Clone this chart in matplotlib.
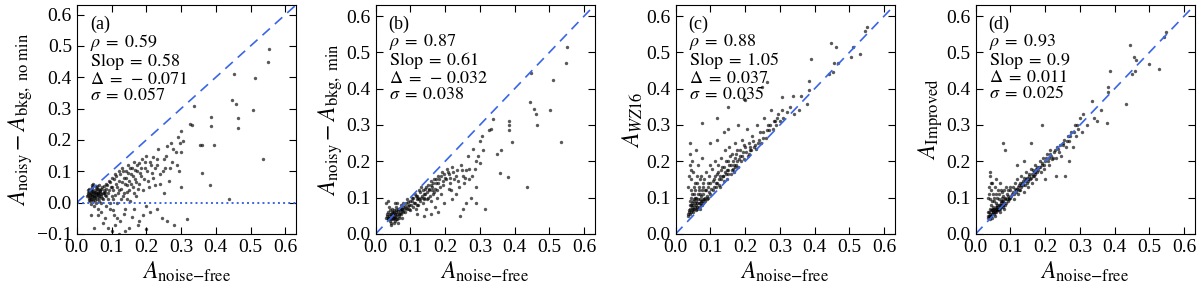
import numpy as np
import matplotlib.pyplot as plt

plt.rcParams['font.family'] = ['Liberation Serif', 'DejaVu Serif']
plt.rcParams['mathtext.fontset'] = 'stix'

# (noise-free amplitude, estimated amplitude) pairs
pts_a = [
    (0.030, 0.020), (0.032, 0.030), (0.035, 0.015), (0.036, 0.035), (0.038, 0.025), (0.040, 0.010),
    (0.040, 0.040), (0.042, 0.030), (0.044, 0.020), (0.045, 0.045), (0.046, 0.005), (0.048, 0.035),
    (0.050, 0.025), (0.050, 0.015), (0.052, 0.040), (0.054, 0.030), (0.055, 0.020), (0.056, 0.050),
    (0.058, 0.010), (0.060, 0.035), (0.060, 0.025), (0.062, 0.045), (0.064, 0.015), (0.066, 0.030),
    (0.068, 0.040), (0.070, 0.020), (0.072, 0.050), (0.074, 0.030), (0.076, 0.010), (0.078, 0.040),
    (0.080, 0.025), (0.035, 0.045), (0.045, 0.055), (0.055, 0.000), (0.065, 0.055), (0.040, -0.005),
    (0.050, -0.010), (0.070, 0.000), (0.085, 0.045), (0.090, 0.030),
    (0.033, 0.025), (0.037, 0.018), (0.041, 0.028), (0.043, 0.038), (0.047, 0.022), (0.049, 0.030),
    (0.051, 0.035), (0.053, 0.018), (0.057, 0.028), (0.059, 0.042), (0.061, 0.030), (0.063, 0.022),
    (0.067, 0.036), (0.069, 0.026), (0.071, 0.044), (0.073, 0.016), (0.077, 0.032), (0.079, 0.052),
    (0.082, 0.035), (0.084, 0.020), (0.087, 0.055), (0.045, 0.012), (0.052, 0.008), (0.058, 0.052),
    (0.064, 0.005), (0.043, 0.050), (0.039, 0.005), (0.034, 0.008), (0.031, 0.040), (0.047, 0.060),
    (0.085, 0.060), (0.090, 0.010), (0.092, 0.070), (0.095, -0.020), (0.098, 0.050), (0.100, 0.080),
    (0.100, 0.020), (0.105, 0.040), (0.108, -0.040), (0.110, 0.090), (0.112, 0.060), (0.115, 0.000),
    (0.118, 0.030), (0.120, 0.100), (0.122, 0.070), (0.125, -0.060), (0.128, 0.045), (0.130, 0.110),
    (0.132, 0.020), (0.135, 0.080), (0.138, 0.060), (0.140, -0.020), (0.142, 0.100), (0.145, 0.035),
    (0.148, 0.120), (0.150, 0.070), (0.152, 0.005), (0.155, 0.090), (0.158, -0.045), (0.160, 0.110),
    (0.162, 0.050), (0.165, 0.130), (0.168, 0.075), (0.170, 0.020), (0.172, 0.100), (0.175, -0.070),
    (0.178, 0.060), (0.180, 0.125), (0.185, 0.085), (0.188, 0.140), (0.190, 0.040), (0.195, 0.110),
    (0.198, -0.010), (0.200, 0.150), (0.205, 0.070), (0.210, 0.130), (0.212, -0.030), (0.215, 0.095),
    (0.220, 0.145), (0.225, 0.055), (0.230, 0.120), (0.235, 0.170), (0.240, 0.090), (0.245, -0.050),
    (0.250, 0.140), (0.255, 0.110), (0.260, 0.180), (0.265, 0.070), (0.270, 0.190), (0.275, 0.130),
    (0.280, -0.070), (0.285, 0.160), (0.290, 0.210), (0.295, 0.100), (0.300, 0.230), (0.300, 0.160),
    (0.305, 0.195), (0.070, -0.030), (0.080, -0.050), (0.060, -0.020), (0.100, -0.090), (0.090, -0.080),
    (0.050, -0.080), (0.040, -0.040), (0.120, -0.100), (0.150, -0.080), (0.200, -0.085), (0.180, -0.060),
    (0.230, -0.020), (0.260, -0.060), (0.300, 0.050), (0.250, 0.030),
    (0.092, 0.040), (0.096, 0.065), (0.102, 0.050), (0.104, 0.010), (0.107, 0.075), (0.111, 0.025),
    (0.114, 0.085), (0.117, 0.050), (0.121, 0.040), (0.124, 0.090), (0.127, 0.010), (0.131, 0.065),
    (0.134, 0.100), (0.137, 0.030), (0.141, 0.080), (0.144, 0.055), (0.147, 0.095), (0.151, 0.040),
    (0.154, 0.110), (0.157, 0.060), (0.161, 0.085), (0.164, 0.030), (0.167, 0.105), (0.171, 0.065),
    (0.174, 0.120), (0.177, 0.045), (0.182, 0.095), (0.186, 0.110), (0.192, 0.075), (0.197, 0.130),
    (0.203, 0.100), (0.208, 0.050), (0.214, 0.120), (0.218, 0.080), (0.224, 0.110), (0.232, 0.140),
    (0.238, 0.060), (0.248, 0.100), (0.258, 0.150), (0.268, 0.110), (0.278, 0.170), (0.288, 0.120),
    (0.298, 0.190), (0.085, -0.010), (0.095, 0.000), (0.105, -0.025), (0.115, -0.050), (0.135, -0.035),
    (0.145, 0.010), (0.165, -0.020), (0.190, -0.040), (0.060, -0.040), (0.075, -0.065), (0.110, -0.070),
    (0.140, -0.090),
    (0.318, -0.051), (0.325, 0.250), (0.332, 0.248), (0.338, 0.307), (0.355, 0.183), (0.361, 0.184),
    (0.361, 0.093), (0.382, 0.057), (0.386, 0.274), (0.386, 0.244), (0.394, 0.185), (0.438, 0.013),
    (0.447, 0.328), (0.451, 0.410), (0.458, 0.316), (0.464, 0.269), (0.465, 0.239), (0.507, 0.295),
    (0.513, 0.396), (0.535, 0.140), (0.551, 0.448), (0.554, 0.489),
]

pts_b = [
    (0.030, 0.045), (0.032, 0.055), (0.035, 0.040), (0.036, 0.060), (0.038, 0.050), (0.040, 0.035),
    (0.040, 0.065), (0.042, 0.045), (0.044, 0.055), (0.045, 0.030), (0.046, 0.070), (0.048, 0.050),
    (0.050, 0.040), (0.050, 0.060), (0.052, 0.045), (0.054, 0.065), (0.055, 0.035), (0.056, 0.055),
    (0.058, 0.075), (0.060, 0.050), (0.060, 0.060), (0.062, 0.040), (0.064, 0.070), (0.066, 0.055),
    (0.068, 0.045), (0.070, 0.065), (0.072, 0.080), (0.074, 0.055), (0.076, 0.070), (0.078, 0.060),
    (0.080, 0.075), (0.030, 0.085), (0.035, 0.090), (0.045, 0.025), (0.055, 0.085), (0.065, 0.030),
    (0.085, 0.060), (0.088, 0.085), (0.090, 0.070), (0.095, 0.080),
    (0.033, 0.050), (0.037, 0.045), (0.041, 0.055), (0.043, 0.040), (0.047, 0.060), (0.049, 0.045),
    (0.051, 0.052), (0.053, 0.058), (0.057, 0.048), (0.059, 0.065), (0.061, 0.055), (0.063, 0.062),
    (0.067, 0.050), (0.069, 0.072), (0.071, 0.058), (0.073, 0.068), (0.077, 0.062), (0.079, 0.085),
    (0.082, 0.068), (0.084, 0.078), (0.087, 0.072), (0.089, 0.095), (0.092, 0.078), (0.094, 0.088),
    (0.097, 0.070), (0.039, 0.075), (0.052, 0.030), (0.062, 0.085), (0.075, 0.045), (0.058, 0.040),
    (0.100, 0.090), (0.100, 0.065), (0.105, 0.100), (0.108, 0.075), (0.110, 0.085), (0.112, 0.110),
    (0.115, 0.070), (0.118, 0.095), (0.120, 0.105), (0.122, 0.080), (0.125, 0.120), (0.128, 0.090),
    (0.130, 0.100), (0.132, 0.130), (0.135, 0.085), (0.138, 0.110), (0.140, 0.095), (0.142, 0.125),
    (0.145, 0.070), (0.148, 0.115), (0.150, 0.135), (0.152, 0.100), (0.155, 0.120), (0.158, 0.145),
    (0.160, 0.090), (0.162, 0.130), (0.165, 0.110), (0.168, 0.150), (0.170, 0.075), (0.172, 0.125),
    (0.175, 0.140), (0.178, 0.100), (0.180, 0.160), (0.185, 0.130), (0.188, 0.110), (0.190, 0.170),
    (0.195, 0.145), (0.198, 0.085), (0.200, 0.155), (0.205, 0.180), (0.210, 0.125), (0.212, 0.165),
    (0.215, 0.140), (0.220, 0.185), (0.225, 0.150), (0.230, 0.110), (0.235, 0.175), (0.240, 0.130),
    (0.242, 0.050), (0.245, 0.190), (0.250, 0.160), (0.255, 0.140), (0.260, 0.175), (0.265, 0.215),
    (0.270, 0.150), (0.275, 0.100), (0.280, 0.235), (0.285, 0.180), (0.290, 0.130), (0.295, 0.215),
    (0.300, 0.255), (0.300, 0.195), (0.305, 0.270), (0.310, 0.230), (0.260, 0.085), (0.220, 0.095),
    (0.180, 0.060), (0.160, 0.055), (0.140, 0.050), (0.120, 0.055), (0.250, 0.070), (0.290, 0.085),
    (0.102, 0.080), (0.106, 0.090), (0.109, 0.100), (0.113, 0.085), (0.116, 0.105), (0.119, 0.080),
    (0.123, 0.100), (0.126, 0.095), (0.129, 0.115), (0.133, 0.105), (0.136, 0.120), (0.139, 0.100),
    (0.143, 0.110), (0.146, 0.130), (0.149, 0.095), (0.153, 0.125), (0.156, 0.105), (0.159, 0.135),
    (0.163, 0.120), (0.166, 0.140), (0.169, 0.115), (0.173, 0.150), (0.176, 0.120), (0.179, 0.140),
    (0.183, 0.150), (0.187, 0.160), (0.193, 0.135), (0.197, 0.165), (0.203, 0.150), (0.208, 0.170),
    (0.214, 0.155), (0.218, 0.120), (0.224, 0.170), (0.232, 0.160), (0.238, 0.145), (0.248, 0.175),
    (0.258, 0.155), (0.268, 0.180), (0.278, 0.160), (0.288, 0.200),
    (0.316, 0.070), (0.325, 0.285), (0.332, 0.290), (0.339, 0.317), (0.350, 0.220), (0.358, 0.168),
    (0.360, 0.230), (0.380, 0.157), (0.385, 0.310), (0.385, 0.300), (0.385, 0.287), (0.392, 0.253),
    (0.436, 0.130), (0.443, 0.362), (0.448, 0.442), (0.455, 0.344), (0.462, 0.331), (0.463, 0.299),
    (0.503, 0.342), (0.510, 0.423), (0.532, 0.253), (0.549, 0.472), (0.552, 0.516),
]

pts_c = [
    (0.035, 0.050), (0.038, 0.060), (0.040, 0.070), (0.040, 0.090), (0.042, 0.055), (0.044, 0.080),
    (0.045, 0.100), (0.046, 0.065), (0.048, 0.075), (0.050, 0.060), (0.050, 0.090), (0.052, 0.110),
    (0.054, 0.070), (0.055, 0.085), (0.056, 0.120), (0.058, 0.065), (0.060, 0.080), (0.060, 0.100),
    (0.062, 0.075), (0.064, 0.095), (0.066, 0.130), (0.068, 0.085), (0.070, 0.070), (0.070, 0.110),
    (0.072, 0.090), (0.074, 0.080), (0.076, 0.120), (0.078, 0.095), (0.080, 0.085), (0.080, 0.140),
    (0.036, 0.130), (0.038, 0.160), (0.040, 0.190), (0.042, 0.220), (0.040, 0.250), (0.045, 0.150),
    (0.048, 0.200), (0.050, 0.170), (0.055, 0.140), (0.058, 0.230), (0.062, 0.160), (0.065, 0.190),
    (0.070, 0.150), (0.075, 0.210), (0.085, 0.100), (0.088, 0.120), (0.090, 0.095), (0.095, 0.160),
    (0.037, 0.055), (0.039, 0.065), (0.041, 0.080), (0.043, 0.060), (0.047, 0.085), (0.049, 0.070),
    (0.051, 0.080), (0.053, 0.095), (0.057, 0.075), (0.059, 0.090), (0.061, 0.070), (0.063, 0.085),
    (0.065, 0.110), (0.067, 0.075), (0.069, 0.095), (0.071, 0.085), (0.073, 0.105), (0.075, 0.090),
    (0.077, 0.080), (0.079, 0.110), (0.082, 0.095), (0.084, 0.120), (0.086, 0.090), (0.089, 0.105),
    (0.092, 0.130), (0.094, 0.100), (0.097, 0.115), (0.043, 0.120), (0.047, 0.110), (0.053, 0.130),
    (0.057, 0.100), (0.063, 0.140), (0.068, 0.120), (0.073, 0.160), (0.078, 0.130), (0.083, 0.150),
    (0.088, 0.170), (0.093, 0.140), (0.098, 0.190), (0.044, 0.175),
    (0.100, 0.110), (0.100, 0.140), (0.105, 0.180), (0.108, 0.120), (0.110, 0.150), (0.112, 0.200),
    (0.115, 0.130), (0.118, 0.165), (0.120, 0.140), (0.122, 0.190), (0.125, 0.150), (0.128, 0.130),
    (0.130, 0.175), (0.132, 0.210), (0.135, 0.160), (0.138, 0.145), (0.140, 0.185), (0.142, 0.230),
    (0.145, 0.165), (0.148, 0.150), (0.150, 0.200), (0.152, 0.175), (0.155, 0.240), (0.158, 0.165),
    (0.160, 0.190), (0.162, 0.220), (0.165, 0.180), (0.168, 0.170), (0.170, 0.210), (0.172, 0.250),
    (0.175, 0.190), (0.178, 0.230), (0.180, 0.185), (0.185, 0.215), (0.188, 0.200), (0.190, 0.260),
    (0.195, 0.225), (0.198, 0.205), (0.200, 0.240), (0.205, 0.290), (0.210, 0.220), (0.212, 0.250),
    (0.215, 0.230), (0.220, 0.270), (0.225, 0.240), (0.230, 0.235), (0.235, 0.300), (0.240, 0.260),
    (0.245, 0.250), (0.250, 0.280), (0.255, 0.320), (0.260, 0.265), (0.265, 0.300), (0.270, 0.285),
    (0.275, 0.340), (0.280, 0.290), (0.285, 0.310), (0.290, 0.300), (0.295, 0.330), (0.300, 0.310),
    (0.305, 0.340), (0.310, 0.320), (0.320, 0.335), (0.330, 0.350), (0.100, 0.250), (0.120, 0.260),
    (0.150, 0.290), (0.152, 0.350), (0.196, 0.372), (0.200, 0.370), (0.076, 0.306), (0.118, 0.319),
    (0.249, 0.404), (0.263, 0.418), (0.140, 0.280), (0.180, 0.300),
    (0.103, 0.125), (0.107, 0.145), (0.111, 0.130), (0.114, 0.160), (0.117, 0.140), (0.121, 0.170),
    (0.124, 0.135), (0.127, 0.160), (0.131, 0.150), (0.134, 0.185), (0.137, 0.160), (0.141, 0.170),
    (0.144, 0.200), (0.147, 0.175), (0.151, 0.165), (0.154, 0.190), (0.157, 0.215), (0.161, 0.175),
    (0.164, 0.200), (0.167, 0.190), (0.171, 0.185), (0.174, 0.220), (0.177, 0.200), (0.182, 0.205),
    (0.186, 0.230), (0.192, 0.215), (0.196, 0.245), (0.202, 0.225), (0.207, 0.215), (0.213, 0.240),
    (0.218, 0.230), (0.223, 0.255), (0.228, 0.245), (0.238, 0.250), (0.243, 0.280), (0.252, 0.265),
    (0.262, 0.285), (0.272, 0.300), (0.282, 0.310), (0.292, 0.320),
    (0.305, 0.377), (0.338, 0.380), (0.360, 0.380), (0.379, 0.358), (0.384, 0.420), (0.384, 0.397),
    (0.389, 0.482), (0.440, 0.440), (0.447, 0.526), (0.454, 0.446), (0.457, 0.470), (0.462, 0.514),
    (0.466, 0.472), (0.505, 0.487), (0.511, 0.515), (0.531, 0.496), (0.545, 0.560), (0.551, 0.569),
    (0.340, 0.330), (0.355, 0.340),
]

pts_d = [
    (0.035, 0.045), (0.036, 0.060), (0.038, 0.050), (0.040, 0.070), (0.040, 0.040), (0.042, 0.055),
    (0.044, 0.080), (0.045, 0.050), (0.046, 0.065), (0.048, 0.045), (0.050, 0.060), (0.050, 0.075),
    (0.052, 0.055), (0.054, 0.090), (0.055, 0.065), (0.056, 0.050), (0.058, 0.070), (0.060, 0.060),
    (0.060, 0.085), (0.062, 0.075), (0.064, 0.065), (0.066, 0.095), (0.068, 0.070), (0.070, 0.080),
    (0.070, 0.060), (0.072, 0.090), (0.074, 0.075), (0.076, 0.100), (0.078, 0.080), (0.080, 0.090),
    (0.036, 0.100), (0.038, 0.130), (0.040, 0.160), (0.042, 0.170), (0.045, 0.120), (0.048, 0.140),
    (0.050, 0.110), (0.055, 0.130), (0.060, 0.150), (0.065, 0.120), (0.070, 0.140), (0.075, 0.115),
    (0.082, 0.070), (0.085, 0.100), (0.088, 0.085), (0.090, 0.110), (0.095, 0.095), (0.098, 0.130),
    (0.037, 0.050), (0.039, 0.060), (0.041, 0.050), (0.043, 0.065), (0.047, 0.055), (0.049, 0.070),
    (0.051, 0.060), (0.053, 0.070), (0.057, 0.060), (0.059, 0.075), (0.061, 0.065), (0.063, 0.080),
    (0.065, 0.070), (0.067, 0.080), (0.069, 0.075), (0.071, 0.070), (0.073, 0.085), (0.075, 0.080),
    (0.077, 0.090), (0.079, 0.075), (0.082, 0.085), (0.084, 0.095), (0.086, 0.080), (0.089, 0.095),
    (0.092, 0.090), (0.094, 0.105), (0.097, 0.100), (0.041, 0.095), (0.046, 0.090), (0.052, 0.100),
    (0.058, 0.110), (0.063, 0.100), (0.068, 0.110), (0.073, 0.120), (0.078, 0.105), (0.083, 0.120),
    (0.087, 0.130), (0.092, 0.120), (0.044, 0.140), (0.039, 0.110),
    (0.100, 0.100), (0.100, 0.120), (0.105, 0.110), (0.108, 0.130), (0.110, 0.095), (0.112, 0.140),
    (0.115, 0.115), (0.118, 0.125), (0.120, 0.150), (0.122, 0.110), (0.125, 0.135), (0.128, 0.120),
    (0.130, 0.160), (0.132, 0.130), (0.135, 0.145), (0.138, 0.115), (0.140, 0.155), (0.142, 0.135),
    (0.145, 0.170), (0.148, 0.140), (0.150, 0.150), (0.152, 0.130), (0.155, 0.165), (0.158, 0.180),
    (0.160, 0.155), (0.162, 0.140), (0.165, 0.175), (0.168, 0.160), (0.170, 0.190), (0.172, 0.165),
    (0.175, 0.150), (0.178, 0.185), (0.180, 0.175), (0.185, 0.200), (0.188, 0.170), (0.190, 0.190),
    (0.195, 0.210), (0.198, 0.180), (0.200, 0.200), (0.205, 0.220), (0.210, 0.190), (0.212, 0.210),
    (0.215, 0.230), (0.220, 0.205), (0.225, 0.225), (0.230, 0.210), (0.235, 0.240), (0.240, 0.225),
    (0.245, 0.215), (0.250, 0.245), (0.255, 0.260), (0.258, 0.160), (0.260, 0.240), (0.265, 0.270),
    (0.270, 0.255), (0.275, 0.280), (0.280, 0.240), (0.285, 0.300), (0.290, 0.270), (0.295, 0.290),
    (0.300, 0.320), (0.305, 0.280), (0.310, 0.330), (0.320, 0.300), (0.080, 0.250), (0.085, 0.230),
    (0.160, 0.250), (0.190, 0.300), (0.120, 0.190), (0.140, 0.200), (0.230, 0.160), (0.200, 0.150),
    (0.270, 0.200),
    (0.103, 0.105), (0.107, 0.115), (0.111, 0.110), (0.114, 0.125), (0.117, 0.120), (0.121, 0.130),
    (0.124, 0.120), (0.127, 0.140), (0.131, 0.135), (0.134, 0.140), (0.137, 0.135), (0.141, 0.145),
    (0.144, 0.150), (0.147, 0.155), (0.151, 0.145), (0.154, 0.160), (0.157, 0.150), (0.161, 0.165),
    (0.164, 0.160), (0.167, 0.170), (0.171, 0.170), (0.174, 0.180), (0.177, 0.170), (0.182, 0.185),
    (0.186, 0.185), (0.192, 0.195), (0.196, 0.190), (0.202, 0.210), (0.207, 0.200), (0.213, 0.220),
    (0.218, 0.215), (0.223, 0.210), (0.228, 0.230), (0.238, 0.235), (0.243, 0.245), (0.252, 0.250),
    (0.262, 0.255), (0.272, 0.270), (0.282, 0.280), (0.292, 0.300),
    (0.335, 0.366), (0.340, 0.320), (0.350, 0.310), (0.360, 0.341), (0.377, 0.306), (0.382, 0.404),
    (0.382, 0.390), (0.387, 0.450), (0.432, 0.358), (0.445, 0.521), (0.450, 0.440), (0.456, 0.486),
    (0.458, 0.449), (0.460, 0.480), (0.500, 0.468), (0.529, 0.455), (0.541, 0.542), (0.549, 0.556),
]

panel_tags = ['(a)', '(b)', '(c)', '(d)']
rho = ['0.59', '0.87', '0.88', '0.93']
slop = ['0.58', '0.61', '1.05', '0.9']
delta = ['-\\,0.071', '-\\,0.032', '0.037', '0.011']
sigma = ['0.057', '0.038', '0.035', '0.025']
ylabels = [r'$A_{\rm noisy}-A_{\rm bkg,\ no\ min}$',
           r'$A_{\rm noisy}-A_{\rm bkg,\ min}$',
           r'$A_{WZ16}$',
           r'$A_{\rm Improved}$']
ymins = [-0.1, 0.0, 0.0, 0.0]

fig = plt.figure(figsize=(12, 2.86), dpi=100)
lefts = [0.064, 0.313, 0.563, 0.813]

for i, pts in enumerate([pts_a, pts_b, pts_c, pts_d]):
    ax = fig.add_axes([lefts[i], 0.182, 0.1825, 0.80])
    arr = np.array(pts)
    ax.scatter(arr[:, 0], arr[:, 1], s=6, color='k', alpha=0.65, linewidths=0)
    ax.plot([0, 0.63], [0, 0.63], '--', color='#3a66e6', lw=1.2, dashes=(6, 4))
    if i == 0:
        ax.axhline(0, color='#3a66e6', ls=':', lw=1.4)
    ax.set_xlim(0, 0.63)
    ax.set_ylim(ymins[i], 0.63)
    ax.set_xticks(np.arange(0, 0.61, 0.1))
    ax.set_yticks(np.arange(ymins[i], 0.61, 0.1))
    ax.tick_params(direction='in', top=True, right=True, length=5, labelsize=14)
    ax.set_xlabel(r'$A_{\rm noise{-}free}$', fontsize=17, labelpad=3)
    ax.set_ylabel(ylabels[i], fontsize=17, labelpad=1)

    block = '\n'.join([panel_tags[i],
                       r'$\rho\;=\;%s$' % rho[i],
                       r'${\rm Slop}\;=\;%s$' % slop[i],
                       r'$\Delta\;=\;%s$' % delta[i],
                       r'$\sigma\;=\;%s$' % sigma[i]])
    ax.text(0.06, 0.955, block, transform=ax.transAxes, fontsize=13,
            va='top', ha='left', linespacing=0.92)

fig.savefig('out.png', dpi=100)
